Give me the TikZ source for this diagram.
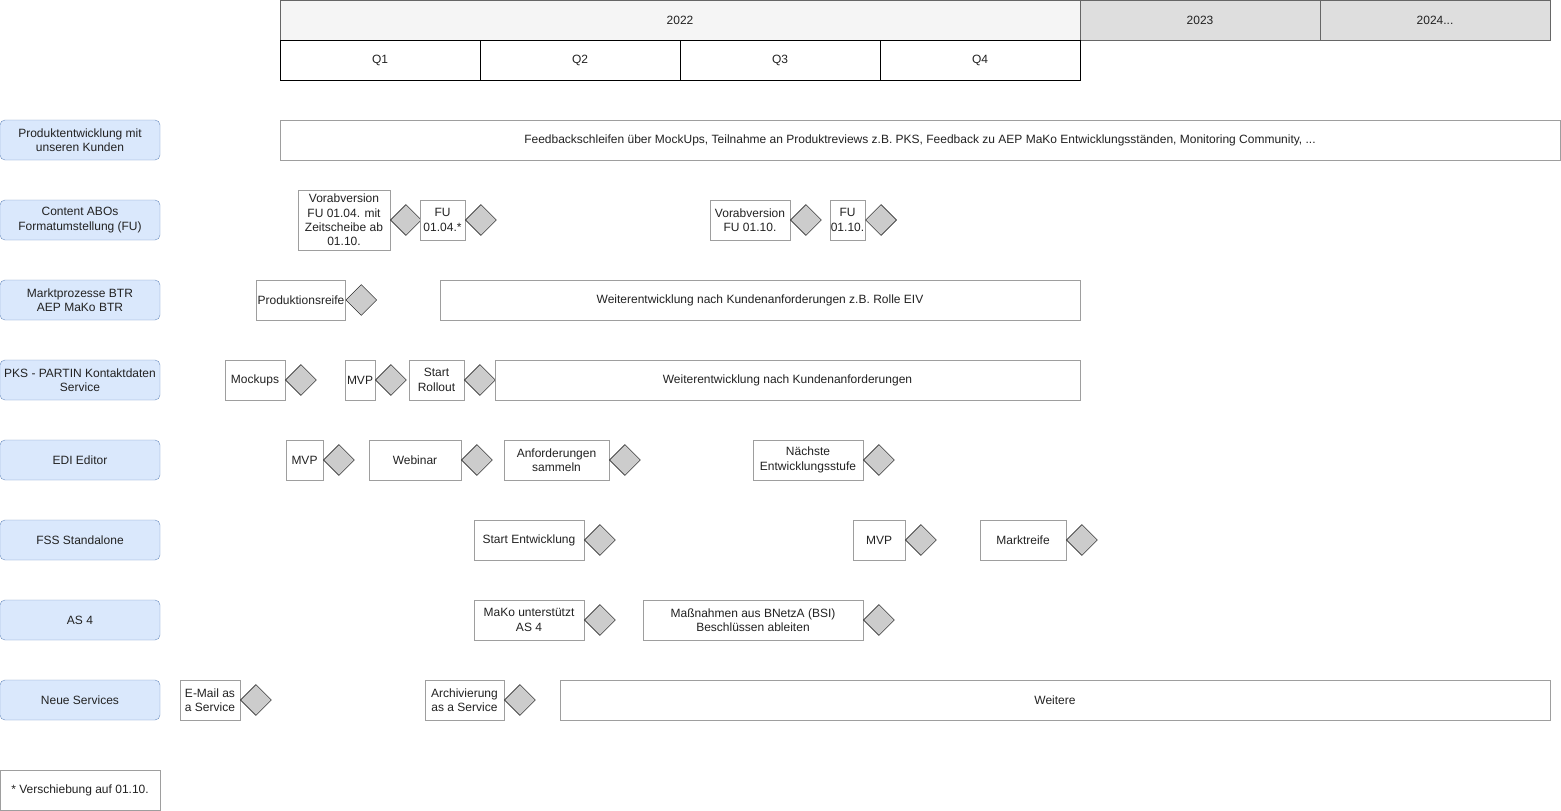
\documentclass[tikz,border=0pt]{standalone}
\usepackage{fontspec}
\setmainfont{Liberation Sans}
\usepackage{xcolor}
\usetikzlibrary{positioning,shapes.geometric}
\definecolor{lanefill}{HTML}{DAE8FC}
\definecolor{laneline}{HTML}{6C8EBF}
\definecolor{taskline}{HTML}{9E9E9E}
\definecolor{msfill}{HTML}{CCCCCC}
\definecolor{yearnow}{HTML}{F5F5F5}
\definecolor{yearlater}{HTML}{DEDEDE}
\definecolor{yearline}{HTML}{666666}
\definecolor{txt}{HTML}{222222}

\begin{document}
\begin{tikzpicture}[x=1pt, y=-1pt, font=\fontsize{12}{14.4}\selectfont, text=txt,
  lane/.style={draw=laneline, fill=lanefill, rounded corners=5pt, minimum width=160pt,
    minimum height=40pt, align=center, inner sep=0pt},
  task/.style={draw=taskline, fill=white, minimum height=40pt, align=center, inner sep=1pt},
  ms/.style={diamond, draw=black, fill=msfill, minimum width=31pt, minimum height=31pt,
    inner sep=0pt, aspect=1},
  yearbox/.style={draw=yearline, minimum height=40pt, inner sep=0pt},
  qbox/.style={draw=black, fill=white, minimum width=200pt, minimum height=40pt, inner sep=0pt}]
  \useasboundingbox (0,0) rectangle (1561,811);
  % time axis
  \node[yearbox, fill=yearnow, minimum width=800pt] (y22) at (680,20) {2022};
  \node[yearbox, fill=yearlater, minimum width=240pt] (y23) at (1200,20) {2023};
  \node[yearbox, fill=yearlater, minimum width=230pt] (y24) at (1435,20) {2024...};
  \node[qbox] (q1) at (380,60) {Q1};
  \node[qbox] (q2) at (580,60) {Q2};
  \node[qbox] (q3) at (780,60) {Q3};
  \node[qbox] (q4) at (980,60) {Q4};
  % lanes
  \node[lane] (kunden) at (80,140) {Produktentwicklung mit\\unseren Kunden};
  \node[lane] (abo) at (80,220) {Content ABOs\\Formatumstellung (FU)};
  \node[lane] (btr) at (80,300) {Marktprozesse BTR\\AEP MaKo BTR};
  \node[lane] (pks) at (80,380) {PKS - PARTIN Kontaktdaten\\Service};
  \node[lane] (edi) at (80,460) {EDI Editor};
  \node[lane] (fss) at (80,540) {FSS Standalone};
  \node[lane] (as4) at (80,620) {AS 4};
  \node[lane] (neu) at (80,700) {Neue Services};
  % Produktentwicklung
  \node[task, minimum width=1280pt] (feedback) at (920,140)
    {Feedbackschleifen über MockUps, Teilnahme an Produktreviews z.B. PKS, Feedback zu AEP MaKo Entwicklungsständen, Monitoring Community, ...};
  % Content ABOs
  \node[task, minimum width=92pt, minimum height=60pt] (vab1) at (344,220)
    {Vorabversion\\FU 01.04. mit\\Zeitscheibe ab\\01.10.};
  \node[ms, right=0pt of vab1] (vab1ms) {};
  \node[task, minimum width=45pt] (fu1) at (442.5,220) {FU\\01.04.*};
  \node[ms, right=0pt of fu1] (fu1ms) {};
  \node[task, minimum width=80pt] (vab2) at (750,220) {Vorabversion\\FU 01.10.};
  \node[ms, right=0pt of vab2] (vab2ms) {};
  \node[task, minimum width=35pt] (fu2) at (847.5,220) {FU\\01.10.};
  \node[ms, right=0pt of fu2] (fu2ms) {};
  % Marktprozesse
  \node[task, minimum width=88pt] (prod) at (301,300) {Produktionsreife};
  \node[ms, right=0pt of prod] (prodms) {};
  \node[task, minimum width=640pt] (weiterbtr) at (760,300)
    {Weiterentwicklung nach Kundenanforderungen z.B. Rolle EIV};
  % PKS
  \node[task, minimum width=60pt] (mock) at (255,380) {Mockups};
  \node[ms, right=0pt of mock] (mockms) {};
  \node[task, minimum width=30pt] (pksmvp) at (360,380) {MVP};
  \node[ms, right=0pt of pksmvp] (pksmvpms) {};
  \node[task, minimum width=55pt] (rollout) at (436.5,380) {Start\\Rollout};
  \node[ms, right=0pt of rollout] (rolloutms) {};
  \node[task, minimum width=585pt] (weiterpks) at (787.5,380)
    {Weiterentwicklung nach Kundenanforderungen};
  % EDI Editor
  \node[task, minimum width=37pt] (edimvp) at (304.5,460) {MVP};
  \node[ms, right=0pt of edimvp] (edimvpms) {};
  \node[task, minimum width=92pt] (webinar) at (415,460) {Webinar};
  \node[ms, right=0pt of webinar] (webinarms) {};
  \node[task, minimum width=105pt] (anf) at (556.5,460) {Anforderungen\\sammeln};
  \node[ms, right=0pt of anf] (anfms) {};
  \node[task, minimum width=110pt] (stufe) at (808,460) {Nächste\\Entwicklungsstufe};
  \node[ms, right=0pt of stufe] (stufems) {};
  % FSS
  \node[task, minimum width=110pt] (startent) at (529,540) {Start Entwicklung};
  \node[ms, right=0pt of startent] (startentms) {};
  \node[task, minimum width=52pt] (fssmvp) at (879,540) {MVP};
  \node[ms, right=0pt of fssmvp] (fssmvpms) {};
  \node[task, minimum width=86pt] (markt) at (1023,540) {Marktreife};
  \node[ms, right=0pt of markt] (marktms) {};
  % AS 4
  \node[task, minimum width=110pt] (mako) at (529,620) {MaKo unterstützt\\AS 4};
  \node[ms, right=0pt of mako] (makoms) {};
  \node[task, minimum width=220pt] (bnetza) at (753,620)
    {Maßnahmen aus BNetzA (BSI)\\Beschlüssen ableiten};
  \node[ms, right=0pt of bnetza] (bnetzams) {};
  % Neue Services
  \node[task, minimum width=60pt] (email) at (210,700) {E-Mail as\\a Service};
  \node[ms, right=0pt of email] (emailms) {};
  \node[task, minimum width=79pt] (archiv) at (464.5,700) {Archivierung\\as a Service};
  \node[ms, right=0pt of archiv] (archivms) {};
  \node[task, minimum width=990pt] (weitere) at (1055,700) {Weitere};
  % footnote
  \node[task, minimum width=160pt] (note) at (80,790) {* Verschiebung auf 01.10.};
\end{tikzpicture}
\end{document}
